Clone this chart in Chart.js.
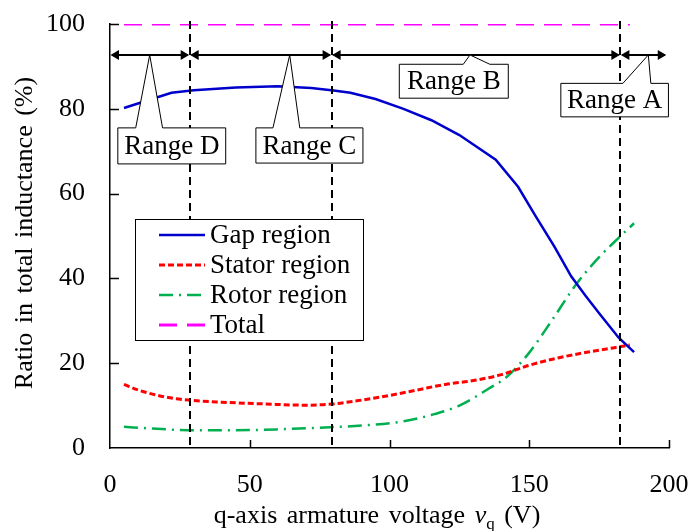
<!DOCTYPE html>
<html>
<head>
<meta charset="utf-8">
<script src="https://cdn.jsdelivr.net/npm/chart.js@4.4.1/dist/chart.umd.min.js"></script>
<style>
  html, body { margin: 0; padding: 0; background: #fff; }
</style>
</head>
<body>
<canvas id="chart" width="696" height="531"></canvas>
<script>
(() => {
  'use strict'

  // values
  const gapV = [5, 15, 22, 30, 45, 60, 72, 80, 86, 95, 105, 115, 125, 138, 146, 152, 159, 165, 170, 175, 182, 187.5]
  const gapRatio = [80.2, 82.3, 83.8, 84.4, 85.0, 85.3, 84.9, 84.3, 83.8, 82.3, 80.0, 77.3, 73.8, 68.0, 61.6, 55.0, 47.5, 40.5, 36.0, 31.8, 26.0, 22.6]

  const statorV = [5, 10, 20, 28, 40, 55, 70, 80, 90, 100, 110, 120, 130, 140, 150, 160, 170, 180, 186]
  const statorRatio = [15.0, 13.7, 12.0, 11.3, 10.8, 10.4, 10.1, 10.4, 11.3, 12.4, 13.7, 15.0, 15.9, 17.3, 19.5, 21.2, 22.5, 23.6, 24.3]

  const rotorV = [5, 15, 28, 45, 60, 75, 90, 105, 115, 125, 135, 142, 150, 158, 167, 175, 183, 187.5]
  const rotorRatio = [5.0, 4.6, 4.2, 4.2, 4.4, 4.8, 5.3, 6.3, 7.8, 10.0, 13.8, 16.8, 22.5, 30.0, 38.8, 45.0, 50.2, 53.0]

  const totalV = [5, 186]
  const totalRatio = [100, 100]

  const seriesNames = ['Gap region', 'Stator region', 'Rotor region', 'Total']
  const xTicks = [0, 50, 100, 150, 200]
  const yTicks = [0, 20, 40, 60, 80, 100]

  // operating ranges (V)
  const rangeBounds = [28.5, 79.3, 182.6]
  const rangeEnds = [0, 28.5, 79.3, 182.6, 199.2]
  const rangeNames = ['Range D', 'Range C', 'Range B', 'Range A']
  const arrowLevel = 92.7

  // callout placement, in axis units
  const calloutLayout = [
    { tip: 14.2, base: [9.2, 18.8], left: 2.8, right: 41.4, top: 75.5, bottom: 67.0 },
    { tip: 64.3, base: [58.3, 67.9], left: 52.2, right: 90.5, top: 75.5, bottom: 67.2 },
    { tip: 128.8, base: [126.4, 135.9], left: 103.5, right: 142.5, top: 90.5, bottom: 82.5 },
    { tip: 192.6, base: [183.5, 193.5], left: 161.3, right: 199.8, top: 86.0, bottom: 78.1 }
  ]

  const SERIF = '"Liberation Serif", "Times New Roman", serif'

  const pts = (xs, ys) => xs.map((v, i) => ({ x: v, y: ys[i] }))

  function line(ctx, x1, y1, x2, y2) {
    ctx.beginPath()
    ctx.moveTo(x1, y1)
    ctx.lineTo(x2, y2)
    ctx.stroke()
  }

  function doubleArrow(ctx, x1, x2, yy) {
    const hl = 9, hw = 5
    ctx.lineWidth = 2
    line(ctx, x1 + 2, yy, x2 - 2, yy)
    ctx.beginPath()
    ctx.moveTo(x1 + 0.5, yy)
    ctx.lineTo(x1 + hl, yy - hw)
    ctx.lineTo(x1 + hl, yy + hw)
    ctx.closePath()
    ctx.fill()
    ctx.beginPath()
    ctx.moveTo(x2 - 0.5, yy)
    ctx.lineTo(x2 - hl, yy - hw)
    ctx.lineTo(x2 - hl, yy + hw)
    ctx.closePath()
    ctx.fill()
  }

  // no extra room for labels: the plot area is fixed by layout padding
  function noPadding(s) {
    s.paddingTop = s.paddingBottom = s.paddingLeft = s.paddingRight = 0
  }

  const overlay = {
    id: 'overlay',
    afterDatasetsDraw(chart) {
      const { ctx, chartArea: a, scales: { x, y } } = chart
      ctx.save()
      ctx.strokeStyle = '#000'
      ctx.fillStyle = '#000'

      // boundaries between ranges
      ctx.lineWidth = 2
      ctx.setLineDash([8, 5])
      rangeBounds.forEach(v => {
        const px = Math.round(x.getPixelForValue(v))
        line(ctx, px, a.top - 3, px, a.bottom)
      })
      ctx.setLineDash([])

      // range arrows
      const ay = y.getPixelForValue(arrowLevel)
      for (let i = 0; i < rangeEnds.length - 1; i++) {
        doubleArrow(ctx, x.getPixelForValue(rangeEnds[i]), x.getPixelForValue(rangeEnds[i + 1]), ay)
      }

      // callouts
      ctx.font = '27px ' + SERIF
      ctx.textAlign = 'center'
      ctx.textBaseline = 'middle'
      calloutLayout.forEach((c, i) => {
        const l = x.getPixelForValue(c.left), r = x.getPixelForValue(c.right)
        const t = y.getPixelForValue(c.top), b = y.getPixelForValue(c.bottom)
        const b0 = x.getPixelForValue(c.base[0]), b1 = x.getPixelForValue(c.base[1])
        const tx = x.getPixelForValue(c.tip)
        ctx.beginPath()
        ctx.moveTo(b0, t)
        ctx.lineTo(tx, ay)
        ctx.lineTo(b1, t)
        ctx.lineTo(r, t)
        ctx.lineTo(r, b)
        ctx.lineTo(l, b)
        ctx.lineTo(l, t)
        ctx.closePath()
        ctx.fillStyle = '#fff'
        ctx.fill()
        ctx.lineWidth = 1
        ctx.strokeStyle = '#000'
        ctx.stroke()
        ctx.fillStyle = '#000'
        ctx.fillText(rangeNames[i], (l + r) / 2, (t + b) / 2 + 1)
      })

      // legend
      const lx = a.left + 25, ly = 219, lw = 228, lh = 121
      ctx.fillStyle = '#fff'
      ctx.fillRect(lx, ly, lw, lh)
      ctx.lineWidth = 1
      ctx.strokeStyle = '#000'
      ctx.strokeRect(lx + 0.5, ly + 0.5, lw, lh)
      ctx.textAlign = 'left'
      chart.data.datasets.forEach((ds, i) => {
        const ry = ly + 16 + i * 30
        ctx.strokeStyle = ds.borderColor
        ctx.lineWidth = ds.borderWidth
        ctx.setLineDash(ds.borderDash || [])
        line(ctx, lx + 24, ry, lx + 70, ry)
        ctx.setLineDash([])
        ctx.fillStyle = '#000'
        ctx.fillText(ds.label, lx + 75, ry + 1)
      })
      ctx.restore()
    },
    afterDraw(chart) {
      const { ctx, chartArea: a, scales: { x, y } } = chart
      ctx.save()
      ctx.strokeStyle = '#000'
      ctx.lineWidth = 1.5
      yTicks.slice(1).forEach(v => {
        const py = Math.round(y.getPixelForValue(v)) + 0.5
        line(ctx, a.left, py, a.left + 9, py)
      })
      xTicks.slice(1).forEach(v => {
        const px = Math.round(x.getPixelForValue(v)) + 0.5
        line(ctx, px, a.bottom, px, a.bottom - 8)
      })

      ctx.fillStyle = '#000'
      if ('wordSpacing' in ctx) ctx.wordSpacing = '3px'
      // y title
      ctx.save()
      ctx.translate(25, 233)
      ctx.rotate(-Math.PI / 2)
      ctx.font = '26px ' + SERIF
      ctx.textAlign = 'center'
      ctx.textBaseline = 'middle'
      ctx.fillText('Ratio in total inductance (%)', 0, 0)
      ctx.restore()

      // x title with italic v and subscript q
      const parts = [
        { t: 'q-axis armature voltage ', f: '26px ' + SERIF, dy: 0 },
        { t: 'v', f: 'italic 26px ' + SERIF, dy: 0 },
        { t: 'q', f: '17px ' + SERIF, dy: 6 },
        { t: ' (V)', f: '26px ' + SERIF, dy: 0 }
      ]
      ctx.textAlign = 'left'
      ctx.textBaseline = 'alphabetic'
      let w = 0
      parts.forEach(p => { ctx.font = p.f; p.w = ctx.measureText(p.t).width; w += p.w })
      let cx = 377 - w / 2
      parts.forEach(p => {
        ctx.font = p.f
        ctx.fillText(p.t, cx, 523 + p.dy)
        cx += p.w
      })
      ctx.restore()
    }
  }

  new Chart(document.getElementById('chart'), {
    type: 'line',
    data: {
      datasets: [
        {
          label: seriesNames[0],
          data: pts(gapV, gapRatio),
          borderColor: '#0000cc',
          borderWidth: 2.5,
          tension: 0
        },
        {
          label: seriesNames[1],
          data: pts(statorV, statorRatio),
          borderColor: '#ff0000',
          borderWidth: 3,
          borderDash: [6, 3],
          cubicInterpolationMode: 'monotone'
        },
        {
          label: seriesNames[2],
          data: pts(rotorV, rotorRatio),
          borderColor: '#00b050',
          borderWidth: 2.5,
          borderDash: [14, 6, 2, 6],
          cubicInterpolationMode: 'monotone'
        },
        {
          label: seriesNames[3],
          data: pts(totalV, totalRatio),
          borderColor: '#ff00ff',
          borderWidth: 3,
          borderDash: [18, 10]
        }
      ]
    },
    options: {
      responsive: false,
      animation: false,
      events: [],
      elements: { point: { radius: 0 } },
      layout: { padding: { top: 24, right: 27, bottom: 0, left: 0 } },
      plugins: {
        legend: { display: false },
        tooltip: { enabled: false }
      },
      scales: {
        x: {
          type: 'linear',
          min: 0,
          max: 200,
          afterFit: s => { s.height = 83; noPadding(s) },
          afterBuildTicks: s => { s.ticks = xTicks.map(v => ({ value: v })) },
          grid: { display: false, drawTicks: false },
          border: { display: true, color: '#000', width: 1.5 },
          ticks: { color: '#000', font: { family: SERIF, size: 26 }, padding: 22, maxRotation: 0, autoSkip: false }
        },
        y: {
          min: 0,
          max: 100,
          afterFit: s => { s.width = 110; noPadding(s) },
          afterBuildTicks: s => { s.ticks = yTicks.map(v => ({ value: v })) },
          grid: { display: false, drawTicks: false },
          border: { display: true, color: '#000', width: 1.5 },
          ticks: { color: '#000', font: { family: SERIF, size: 26 }, padding: 25 }
        }
      }
    },
    plugins: [overlay]
  })
})()
</script>
</body>
</html>
